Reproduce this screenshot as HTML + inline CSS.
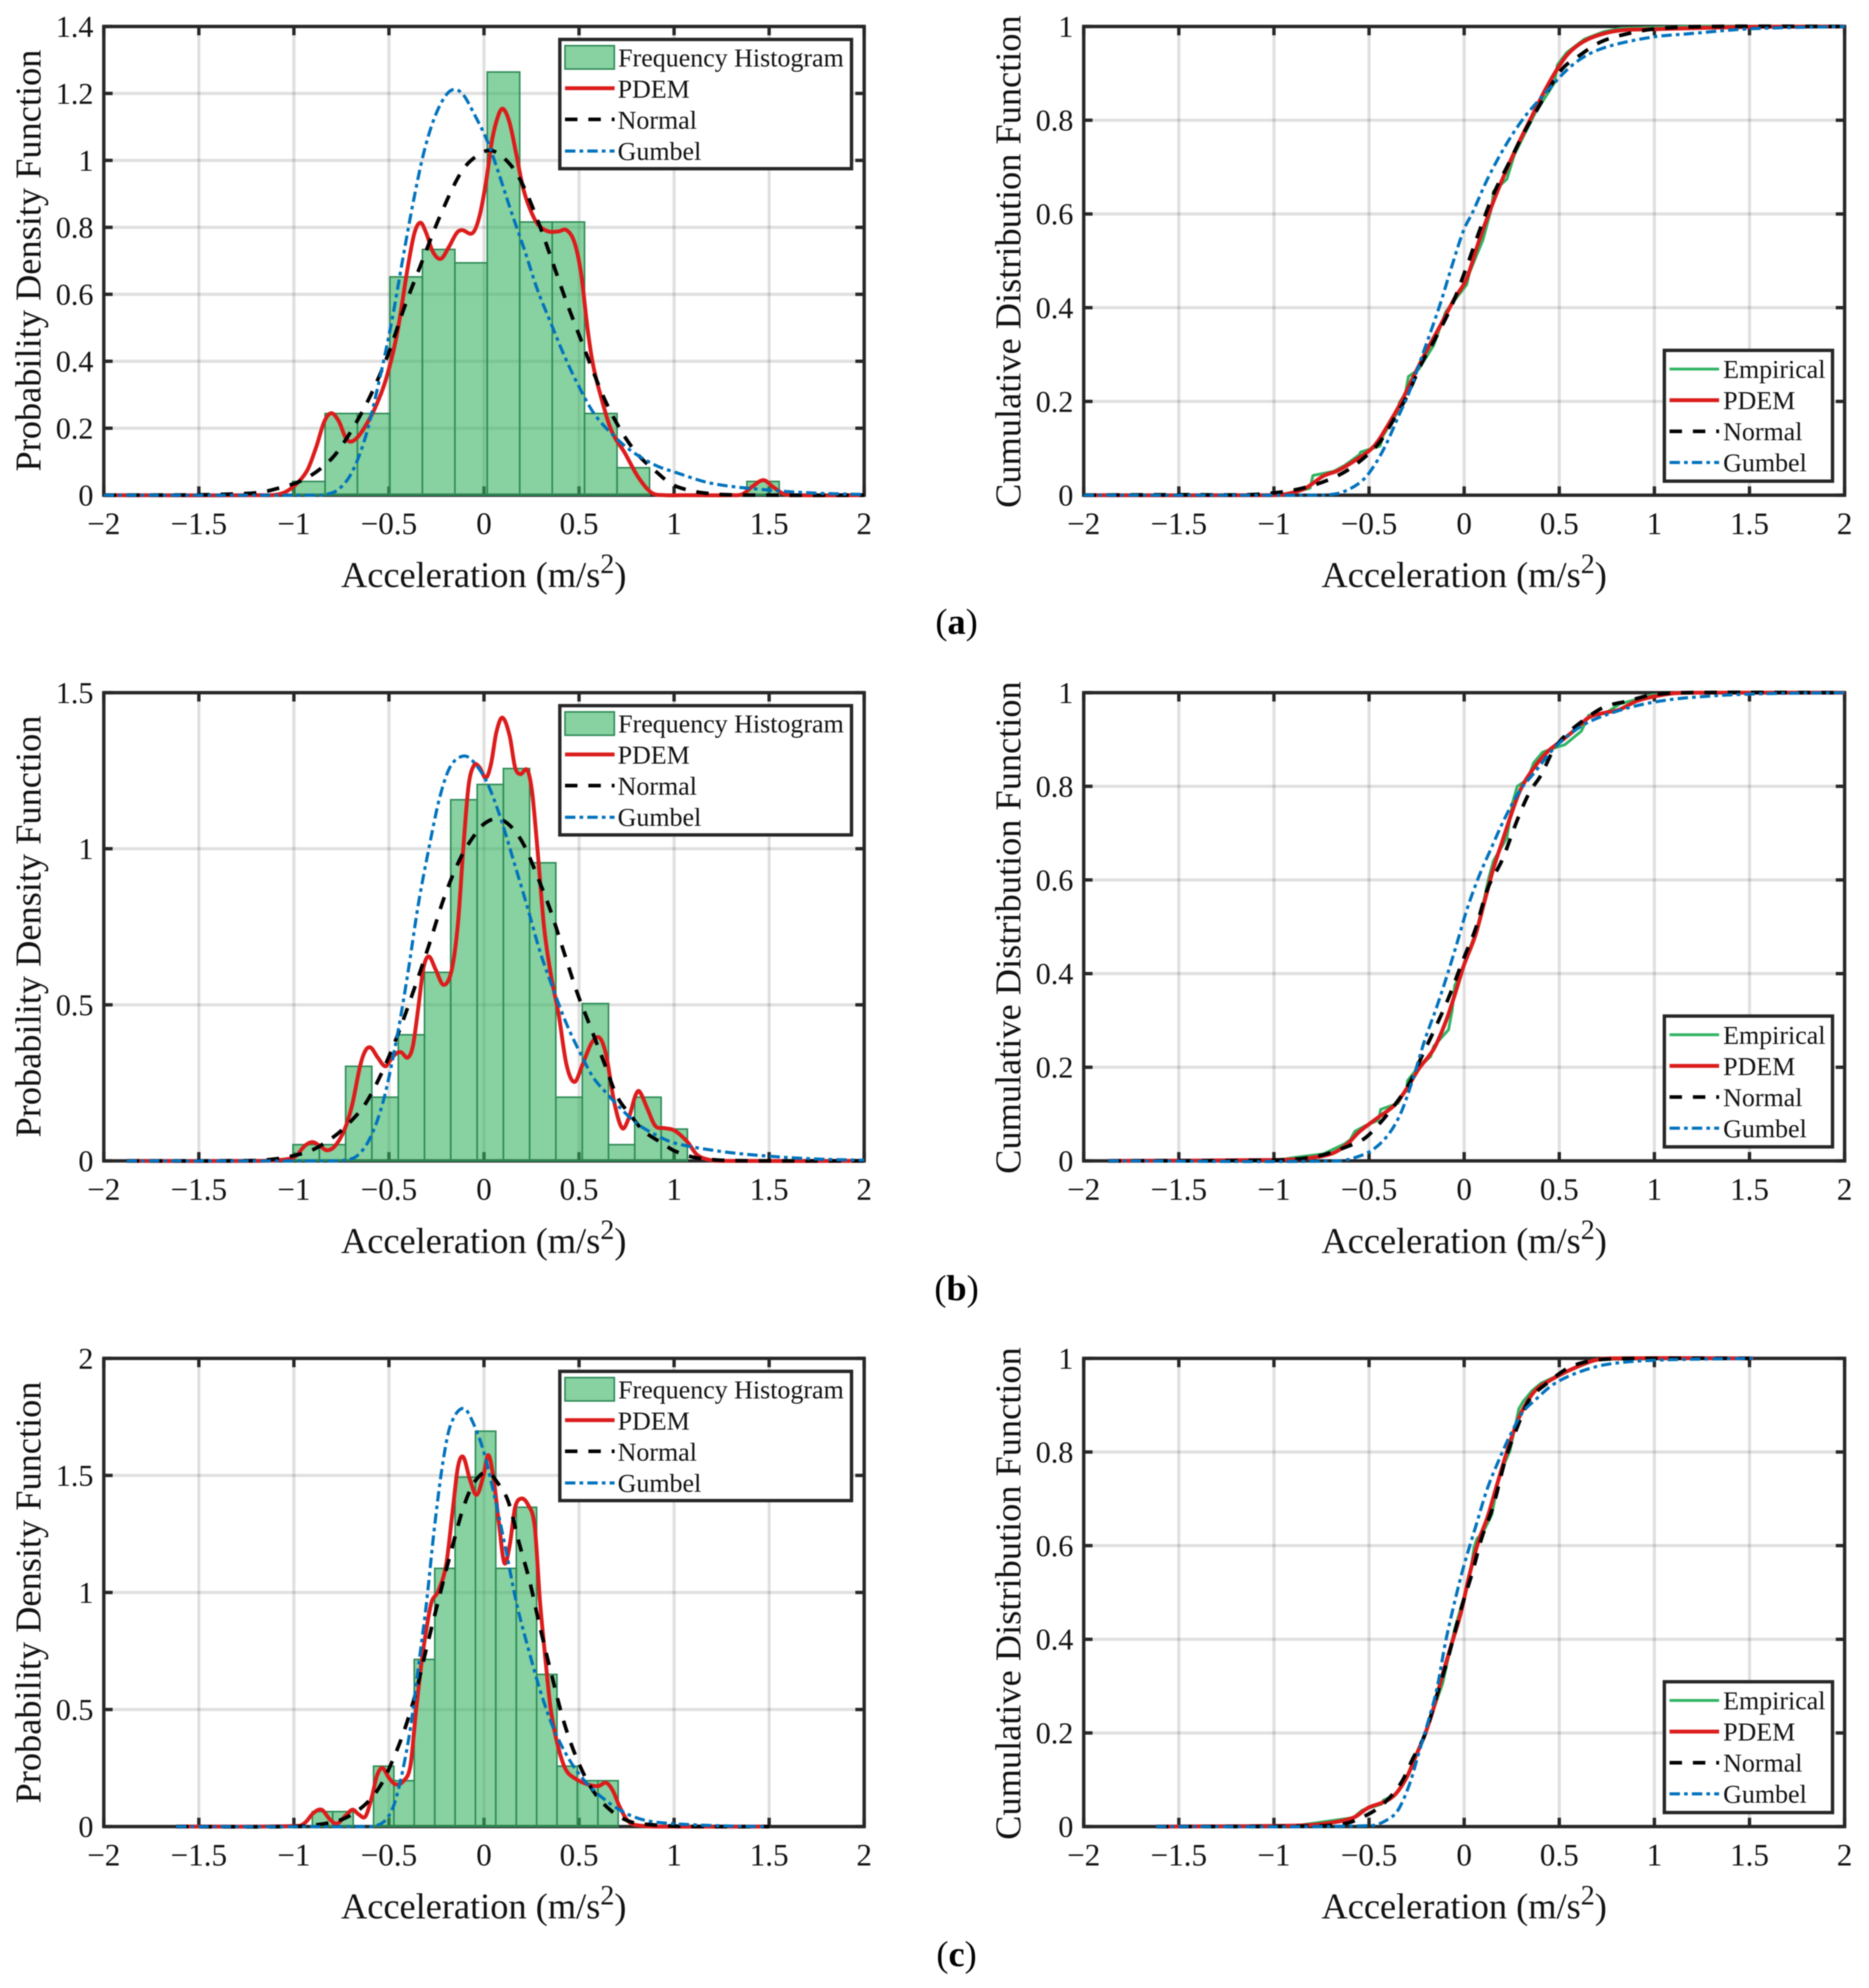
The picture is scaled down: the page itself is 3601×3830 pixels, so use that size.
<!DOCTYPE html>
<html lang="en">
<head>
<meta charset="utf-8">
<title>Probability density and cumulative distribution charts</title>
<style>
html,body{margin:0;padding:0;background:#fff;width:3601px;height:3830px;overflow:hidden}
svg{display:block;font-family:"Liberation Serif",serif;fill:#111;filter:blur(1px)}
</style>
</head>
<body>
<svg id="figure" xmlns="http://www.w3.org/2000/svg" width="3601" height="3830" viewBox="0 0 3601 3830">
<rect width="3601" height="3830" fill="#fff"/>
<g id="plots"></g>
<g font-size="70" fill="#111">
<text x="932" y="1131" text-anchor="middle">Acceleration (m/s<tspan dy="-27" font-size="54">2</tspan><tspan dy="27">)</tspan></text>
<text x="2821" y="1131" text-anchor="middle">Acceleration (m/s<tspan dy="-27" font-size="54">2</tspan><tspan dy="27">)</tspan></text>
<text x="932" y="2414" text-anchor="middle">Acceleration (m/s<tspan dy="-27" font-size="54">2</tspan><tspan dy="27">)</tspan></text>
<text x="2821" y="2414" text-anchor="middle">Acceleration (m/s<tspan dy="-27" font-size="54">2</tspan><tspan dy="27">)</tspan></text>
<text x="932" y="3696" text-anchor="middle">Acceleration (m/s<tspan dy="-27" font-size="54">2</tspan><tspan dy="27">)</tspan></text>
<text x="2821" y="3696" text-anchor="middle">Acceleration (m/s<tspan dy="-27" font-size="54">2</tspan><tspan dy="27">)</tspan></text>
<text transform="translate(78,502) rotate(-90)" text-anchor="middle">Probability Density Function</text>
<text transform="translate(78,1785) rotate(-90)" text-anchor="middle">Probability Density Function</text>
<text transform="translate(78,3068) rotate(-90)" text-anchor="middle">Probability Density Function</text>
<text transform="translate(1966,504) rotate(-90)" text-anchor="middle">Cumulative Distribution Function</text>
<text transform="translate(1966,1787) rotate(-90)" text-anchor="middle">Cumulative Distribution Function</text>
<text transform="translate(1966,3070) rotate(-90)" text-anchor="middle">Cumulative Distribution Function</text>
<g font-size="50">
<text x="1191" y="128">Frequency Histogram</text>
<text x="1190" y="188">PDEM</text>
<text x="1190" y="248">Normal</text>
<text x="1190" y="308">Gumbel</text>
<text x="1191" y="1411">Frequency Histogram</text>
<text x="1190" y="1471">PDEM</text>
<text x="1190" y="1531">Normal</text>
<text x="1190" y="1591">Gumbel</text>
<text x="1191" y="2694">Frequency Histogram</text>
<text x="1190" y="2754">PDEM</text>
<text x="1190" y="2814">Normal</text>
<text x="1190" y="2874">Gumbel</text>
<text x="3320" y="728">Empirical</text>
<text x="3320" y="788">PDEM</text>
<text x="3320" y="848">Normal</text>
<text x="3320" y="908">Gumbel</text>
<text x="3320" y="2011">Empirical</text>
<text x="3320" y="2071">PDEM</text>
<text x="3320" y="2131">Normal</text>
<text x="3320" y="2191">Gumbel</text>
<text x="3320" y="3293">Empirical</text>
<text x="3320" y="3353">PDEM</text>
<text x="3320" y="3413">Normal</text>
<text x="3320" y="3473">Gumbel</text>
</g>
<text x="1843" y="1221" text-anchor="middle" fill="#000">(<tspan font-weight="bold">a</tspan>)</text>
<text x="1843" y="2505" text-anchor="middle" fill="#000">(<tspan font-weight="bold">b</tspan>)</text>
<text x="1843" y="3788" text-anchor="middle" fill="#000">(<tspan font-weight="bold">c</tspan>)</text>
</g>
</svg>
<script>
const xTicks=[-2,-1.5,-1,-0.5,0,0.5,1,1.5,2];
const xTickLabels=["\u22122","\u22121.5","\u22121","\u22120.5","0","0.5","1","1.5","2"];
const yTicksPdfA=[0,0.2,0.4,0.6,0.8,1,1.2,1.4];
const yTickLabelsPdfA=["0","0.2","0.4","0.6","0.8","1","1.2","1.4"];
const yTicksPdfB=[0,0.5,1,1.5];
const yTickLabelsPdfB=["0","0.5","1","1.5"];
const yTicksPdfC=[0,0.5,1,1.5,2];
const yTickLabelsPdfC=["0","0.5","1","1.5","2"];
const yTicksCdf=[0,0.2,0.4,0.6,0.8,1];
const yTickLabelsCdf=["0","0.2","0.4","0.6","0.8","1"];

const histAEdges=[-1.007,-0.836,-0.666,-0.495,-0.324,-0.153,0.017,0.188,0.359,0.529,0.7,0.871,1.042,1.212,1.383,1.553];
const histAValues=[0.041,0.244,0.244,0.652,0.734,0.694,1.264,0.816,0.816,0.244,0.082,0,0,0,0.041];
const histBEdges=[-1.005,-0.866,-0.728,-0.59,-0.451,-0.313,-0.175,-0.036,0.102,0.24,0.378,0.517,0.655,0.793,0.932,1.07];
const histBValues=[0.052,0.052,0.303,0.204,0.404,0.604,1.157,1.206,1.257,0.955,0.204,0.504,0.052,0.204,0.102];
const histCEdges=[-0.903,-0.796,-0.688,-0.581,-0.474,-0.367,-0.259,-0.152,-0.045,0.062,0.17,0.277,0.384,0.491,0.599,0.706];
const histCValues=[0.064,0.064,0,0.258,0.196,0.714,1.103,1.493,1.689,1.103,1.364,0.65,0.258,0.196,0.196];

const pdfAPdemX=[-2,-1.18,-1.07,-1,-0.93,-0.882,-0.84,-0.803,-0.763,-0.729,-0.7,-0.659,-0.61,-0.568,-0.513,-0.457,-0.401,-0.366,-0.334,-0.304,-0.269,-0.227,-0.185,-0.144,-0.116,-0.06,-0.025,0.01,0.044,0.079,0.103,0.135,0.17,0.205,0.24,0.281,0.337,0.393,0.434,0.476,0.511,0.546,0.574,0.615,0.671,0.741,0.81,0.88,0.95,1.05,1.3,1.36,1.41,1.47,1.52,1.58,1.65,2];
const pdfAPdemY=[0,0,0.004,0.027,0.074,0.145,0.22,0.245,0.22,0.173,0.16,0.177,0.22,0.267,0.351,0.483,0.68,0.783,0.814,0.783,0.727,0.706,0.741,0.783,0.792,0.783,0.83,0.933,1.065,1.14,1.153,1.112,1.018,0.919,0.858,0.811,0.788,0.788,0.792,0.755,0.661,0.492,0.389,0.295,0.192,0.126,0.055,0.008,0,0,0,0.003,0.025,0.045,0.025,0.003,0,0];
const pdfANormalX=[-2,-1.5,-1.3,-1.18,-1.1,-0.97,-0.86,-0.764,-0.624,-0.513,-0.415,-0.332,-0.234,-0.123,-0.039,0.044,0.142,0.211,0.295,0.365,0.434,0.504,0.574,0.643,0.727,0.81,0.908,0.99,1.1,1.2,1.3,1.5,2];
const pdfANormalY=[0,0.001,0.004,0.008,0.018,0.041,0.079,0.135,0.267,0.408,0.567,0.689,0.83,0.962,1.013,1.029,0.985,0.919,0.802,0.689,0.577,0.473,0.37,0.276,0.187,0.121,0.069,0.032,0.012,0.004,0.001,0,0];
const pdfAGumbelX=[-2,-0.9,-0.833,-0.764,-0.694,-0.624,-0.555,-0.485,-0.429,-0.374,-0.318,-0.262,-0.206,-0.158,-0.109,-0.053,0.016,0.072,0.142,0.211,0.281,0.351,0.42,0.49,0.574,0.657,0.768,0.9,1.003,1.2,1.5,1.75,2];
const pdfAGumbelY=[0,0,0.002,0.018,0.069,0.173,0.332,0.52,0.7,0.87,1.02,1.125,1.19,1.212,1.196,1.14,1.06,0.971,0.849,0.736,0.614,0.515,0.42,0.335,0.248,0.192,0.135,0.09,0.069,0.035,0.015,0.006,0.002];

const pdfBPdemX=[-1.88,-1.18,-1.042,-0.987,-0.945,-0.903,-0.861,-0.826,-0.785,-0.736,-0.694,-0.652,-0.624,-0.596,-0.561,-0.52,-0.492,-0.464,-0.436,-0.401,-0.374,-0.346,-0.318,-0.29,-0.255,-0.213,-0.171,-0.137,-0.109,-0.081,-0.053,-0.025,0.01,0.037,0.065,0.097,0.135,0.163,0.191,0.228,0.253,0.281,0.316,0.351,0.393,0.434,0.476,0.518,0.567,0.609,0.643,0.685,0.727,0.762,0.796,0.817,0.859,0.901,0.95,1.003,1.07,1.12,1.18,1.25,2];
const pdfBPdemY=[0,0,0.005,0.017,0.047,0.06,0.047,0.034,0.047,0.097,0.178,0.303,0.353,0.363,0.333,0.303,0.323,0.343,0.348,0.331,0.368,0.489,0.619,0.655,0.614,0.564,0.609,0.76,1.001,1.202,1.267,1.262,1.227,1.272,1.373,1.42,1.362,1.262,1.239,1.252,1.182,1.001,0.75,0.599,0.469,0.308,0.253,0.308,0.379,0.394,0.338,0.188,0.105,0.138,0.208,0.223,0.168,0.112,0.105,0.097,0.061,0.02,0.004,0,0];
const pdfBNormalX=[-1.88,-1.2,-1.1,-1.014,-0.903,-0.791,-0.708,-0.624,-0.541,-0.457,-0.374,-0.29,-0.206,-0.123,-0.053,0.003,0.072,0.142,0.211,0.281,0.351,0.42,0.49,0.56,0.63,0.699,0.769,0.838,0.936,1.003,1.1,1.2,1.3,1.5,2];
const pdfBNormalY=[0,0.001,0.006,0.015,0.035,0.077,0.122,0.183,0.278,0.399,0.539,0.69,0.85,0.971,1.041,1.081,1.096,1.071,1.011,0.911,0.8,0.67,0.539,0.429,0.318,0.208,0.148,0.097,0.057,0.032,0.012,0.004,0.001,0,0];
const pdfBGumbelX=[-1.88,-0.85,-0.736,-0.666,-0.596,-0.527,-0.457,-0.401,-0.346,-0.29,-0.234,-0.178,-0.109,-0.053,0.016,0.086,0.156,0.225,0.295,0.365,0.434,0.504,0.574,0.643,0.727,0.81,0.908,1.003,1.25,1.5,1.75,2];
const pdfBGumbelY=[0,0,0.002,0.017,0.077,0.198,0.399,0.599,0.82,1.001,1.162,1.262,1.297,1.277,1.212,1.101,0.961,0.82,0.67,0.549,0.439,0.348,0.268,0.218,0.163,0.117,0.082,0.057,0.03,0.015,0.006,0.002];

const pdfCPdemX=[-1.62,-0.973,-0.938,-0.896,-0.854,-0.812,-0.775,-0.729,-0.691,-0.659,-0.624,-0.59,-0.562,-0.534,-0.499,-0.464,-0.422,-0.387,-0.36,-0.332,-0.304,-0.276,-0.241,-0.199,-0.165,-0.137,-0.109,-0.074,-0.039,-0.004,0.023,0.051,0.079,0.107,0.135,0.163,0.195,0.232,0.267,0.295,0.323,0.351,0.386,0.428,0.476,0.546,0.602,0.643,0.678,0.713,0.755,0.81,1,1.5];
const pdfCPdemY=[0,0.003,0.019,0.059,0.072,0.032,0.012,0.046,0.072,0.052,0.043,0.126,0.22,0.25,0.207,0.18,0.196,0.26,0.475,0.677,0.838,0.958,1.005,1.119,1.348,1.536,1.579,1.482,1.417,1.495,1.587,1.482,1.294,1.126,1.2,1.361,1.401,1.374,1.281,0.958,0.717,0.502,0.354,0.247,0.207,0.18,0.173,0.187,0.153,0.086,0.026,0.005,0,0];
const pdfCNormalX=[-1.62,-1,-0.875,-0.764,-0.694,-0.61,-0.541,-0.471,-0.415,-0.36,-0.304,-0.234,-0.165,-0.109,-0.053,0.016,0.072,0.128,0.184,0.239,0.295,0.351,0.42,0.49,0.574,0.671,0.769,0.88,1,1.2,1.5];
const pdfCNormalY=[0,0,0.008,0.026,0.052,0.106,0.18,0.301,0.421,0.569,0.757,0.985,1.2,1.361,1.468,1.515,1.468,1.388,1.213,1.052,0.851,0.663,0.448,0.287,0.153,0.066,0.021,0.008,0.002,0,0];
const pdfCGumbelX=[-1.62,-0.62,-0.569,-0.513,-0.471,-0.429,-0.387,-0.346,-0.304,-0.262,-0.22,-0.178,-0.109,-0.053,0.003,0.058,0.114,0.17,0.225,0.295,0.365,0.448,0.532,0.629,0.741,0.852,1.003,1.25,1.48];
const pdfCGumbelY=[0,0,0.003,0.032,0.099,0.234,0.421,0.677,0.945,1.267,1.536,1.71,1.787,1.717,1.589,1.401,1.187,0.958,0.784,0.583,0.421,0.287,0.193,0.119,0.059,0.026,0.012,0.003,0];

const cdfAEmpiricalX=[-2,-1,-0.912,-0.81,-0.795,-0.685,-0.63,-0.552,-0.544,-0.442,-0.426,-0.348,-0.34,-0.309,-0.293,-0.238,-0.16,-0.097,0.013,0.028,0.099,0.146,0.154,0.224,0.263,0.31,0.373,0.475,0.49,0.538,0.632,0.734,0.828,1.2,2];
const cdfAEmpiricalY=[0,0.001,0.004,0.015,0.042,0.051,0.063,0.086,0.092,0.105,0.127,0.179,0.198,0.217,0.253,0.269,0.32,0.391,0.449,0.475,0.545,0.616,0.648,0.674,0.725,0.764,0.815,0.88,0.918,0.944,0.973,0.989,0.996,1,1];
const cdfAPdemX=[-2,-1,-0.928,-0.834,-0.74,-0.661,-0.567,-0.473,-0.395,-0.332,-0.27,-0.207,-0.129,-0.05,0.013,0.075,0.138,0.201,0.279,0.357,0.42,0.483,0.545,0.624,0.718,0.828,0.984,1.5,2];
const cdfAPdemY=[0,0,0.003,0.015,0.041,0.053,0.076,0.105,0.153,0.198,0.25,0.301,0.359,0.42,0.462,0.539,0.61,0.674,0.745,0.809,0.86,0.905,0.941,0.967,0.983,0.992,0.994,0.999,1];
const cdfANormalX=[-2,-1.5,-1.132,-0.975,-0.85,-0.724,-0.614,-0.52,-0.442,-0.364,-0.301,-0.223,-0.144,-0.066,0.013,0.075,0.154,0.232,0.31,0.373,0.436,0.514,0.592,0.718,0.875,1.03,1.3,2];
const cdfANormalY=[0,0.001,0.001,0.006,0.015,0.031,0.053,0.082,0.114,0.166,0.211,0.282,0.34,0.404,0.487,0.558,0.642,0.706,0.77,0.815,0.86,0.909,0.934,0.967,0.986,0.996,1,1];
const cdfAGumbelX=[-2,-0.8,-0.708,-0.63,-0.536,-0.473,-0.411,-0.348,-0.285,-0.223,-0.129,-0.066,-0.003,0.044,0.122,0.216,0.31,0.389,0.475,0.561,0.655,0.78,1,1.169,1.5,2];
const cdfAGumbelY=[0,0,0.001,0.008,0.031,0.063,0.108,0.166,0.224,0.295,0.404,0.487,0.565,0.603,0.674,0.745,0.803,0.841,0.88,0.915,0.941,0.96,0.978,0.984,0.995,1];

const cdfBEmpiricalX=[-1.87,-0.97,-0.897,-0.74,-0.63,-0.599,-0.575,-0.52,-0.45,-0.439,-0.348,-0.301,-0.298,-0.254,-0.176,-0.16,-0.082,-0.063,-0.05,0.005,0.067,0.099,0.13,0.154,0.224,0.255,0.279,0.334,0.365,0.412,0.498,0.53,0.616,0.655,0.749,0.82,0.984,1.15,2];
const cdfBEmpiricalY=[0,0.002,0.007,0.015,0.036,0.045,0.063,0.075,0.087,0.11,0.123,0.155,0.171,0.194,0.223,0.245,0.28,0.322,0.374,0.425,0.496,0.548,0.605,0.641,0.689,0.766,0.8,0.815,0.85,0.873,0.885,0.889,0.918,0.952,0.958,0.976,0.995,1,1];
const cdfBPdemX=[-1.87,-0.975,-0.818,-0.693,-0.614,-0.552,-0.458,-0.364,-0.301,-0.238,-0.16,-0.097,-0.05,-0.003,0.06,0.107,0.154,0.201,0.248,0.295,0.357,0.436,0.514,0.592,0.655,0.749,0.812,0.906,1,1.11,1.3,2];
const cdfBPdemY=[0,0.002,0.006,0.016,0.036,0.062,0.091,0.12,0.155,0.197,0.239,0.297,0.354,0.416,0.483,0.554,0.625,0.683,0.741,0.792,0.834,0.873,0.898,0.924,0.947,0.958,0.963,0.982,0.992,0.999,1,1];
const cdfBNormalX=[-1.87,-0.975,-0.771,-0.599,-0.52,-0.442,-0.364,-0.285,-0.223,-0.16,-0.082,-0.003,0.06,0.122,0.201,0.279,0.342,0.404,0.467,0.53,0.624,0.734,0.859,0.984,1.15,2];
const cdfBNormalY=[0,0.002,0.01,0.033,0.049,0.081,0.12,0.168,0.223,0.277,0.348,0.432,0.496,0.58,0.644,0.728,0.786,0.824,0.876,0.908,0.94,0.969,0.982,0.995,1,1];
const cdfBGumbelX=[-1.87,-0.661,-0.552,-0.473,-0.395,-0.332,-0.27,-0.207,-0.144,-0.082,-0.034,0.013,0.075,0.138,0.216,0.295,0.373,0.467,0.545,0.639,0.749,0.875,1,1.169,1.5,2];
const cdfBGumbelY=[0,0,0.01,0.026,0.058,0.103,0.174,0.258,0.329,0.406,0.47,0.535,0.605,0.664,0.734,0.792,0.831,0.879,0.908,0.934,0.953,0.969,0.98,0.989,0.997,1];

const cdfCEmpiricalX=[-1.62,-0.865,-0.583,-0.536,-0.434,-0.426,-0.364,-0.309,-0.207,-0.113,-0.05,0.028,0.052,0.067,0.099,0.146,0.185,0.24,0.271,0.287,0.31,0.357,0.404,0.561,0.702,1.52];
const cdfCEmpiricalY=[0,0.003,0.019,0.035,0.048,0.056,0.068,0.1,0.196,0.306,0.422,0.531,0.596,0.615,0.628,0.667,0.75,0.802,0.86,0.892,0.908,0.931,0.947,0.976,0.998,1];
const cdfCPdemX=[-1.62,-0.897,-0.74,-0.583,-0.505,-0.426,-0.364,-0.301,-0.254,-0.207,-0.16,-0.113,-0.066,-0.019,0.028,0.075,0.122,0.169,0.216,0.263,0.31,0.373,0.451,0.561,0.686,0.78,1.52];
const cdfCPdemY=[0,0.002,0.006,0.019,0.04,0.052,0.068,0.106,0.151,0.196,0.254,0.325,0.39,0.454,0.538,0.609,0.66,0.725,0.789,0.847,0.892,0.931,0.953,0.976,0.996,1,1];
const cdfCNormalX=[-1.62,-0.818,-0.63,-0.52,-0.426,-0.332,-0.27,-0.207,-0.144,-0.082,-0.019,0.044,0.091,0.154,0.216,0.279,0.342,0.436,0.545,0.655,0.78,1,1.52];
const cdfCNormalY=[0,0.001,0.006,0.023,0.048,0.093,0.145,0.196,0.28,0.364,0.461,0.544,0.615,0.686,0.783,0.853,0.911,0.947,0.979,0.994,0.999,1,1];
const cdfCGumbelX=[-1.62,-0.489,-0.411,-0.348,-0.285,-0.238,-0.191,-0.144,-0.097,-0.05,-0.003,0.06,0.122,0.185,0.248,0.31,0.373,0.467,0.592,0.749,1,1.52];
const cdfCGumbelY=[0,0.002,0.013,0.035,0.093,0.158,0.222,0.293,0.396,0.48,0.555,0.64,0.722,0.785,0.841,0.886,0.911,0.944,0.969,0.987,0.996,1];

const NS='http://www.w3.org/2000/svg';
const STYLE={
  pdem:{stroke:'#dc1c1c',width:7.5,dash:null,name:'pdem'},
  normal:{stroke:'#000',width:7,dash:'24 21',name:'normal'},
  gumbel:{stroke:'#0072bd',width:6,dash:'20 8 7 8',name:'gumbel'},
  empirical:{stroke:'#2fb463',width:5.5,dash:null,name:'empirical'}
};
const root=document.getElementById('plots');
function mk(tag,attrs,parent){
  const e=document.createElementNS(NS,tag);
  for(const k in attrs)e.setAttribute(k,attrs[k]);
  parent.appendChild(e);
  return e;
}
function smoothPath(px,py){
  const n=Math.min(px.length,py.length);
  const t=[];
  for(let i=0;i<n;i++){
    const a=Math.max(0,i-1),b=Math.min(n-1,i+1);
    t.push((py[b]-py[a])/(px[b]-px[a]));
  }
  let d='M'+px[0].toFixed(1)+' '+py[0].toFixed(1);
  for(let i=0;i<n-1;i++){
    const h=(px[i+1]-px[i])/3;
    d+=' C'+(px[i]+h).toFixed(1)+' '+(py[i]+h*t[i]).toFixed(1)+' '+(px[i+1]-h).toFixed(1)+' '+(py[i+1]-h*t[i+1]).toFixed(1)+' '+px[i+1].toFixed(1)+' '+py[i+1].toFixed(1);
  }
  return d;
}
function linePath(px,py){
  const n=Math.min(px.length,py.length);
  let d='';
  for(let i=0;i<n;i++)d+=(i?' L':'M')+px[i].toFixed(1)+' '+py[i].toFixed(1);
  return d;
}
const PANELS=[
 {id:'a-pdf',l:200,r:1665,t:51,b:954,yMax:1.4,yT:yTicksPdfA,yL:yTickLabelsPdfA,edges:histAEdges,vals:histAValues,
  series:[['pdem',pdfAPdemX,pdfAPdemY],['normal',pdfANormalX,pdfANormalY],['gumbel',pdfAGumbelX,pdfAGumbelY]]},
 {id:'a-cdf',l:2088,r:3554,t:51,b:954,yMax:1,yT:yTicksCdf,yL:yTickLabelsCdf,
  series:[['empirical',cdfAEmpiricalX,cdfAEmpiricalY],['pdem',cdfAPdemX,cdfAPdemY],['normal',cdfANormalX,cdfANormalY],['gumbel',cdfAGumbelX,cdfAGumbelY]]},
 {id:'b-pdf',l:200,r:1665,t:1334.5,b:2236.5,yMax:1.5,yT:yTicksPdfB,yL:yTickLabelsPdfB,edges:histBEdges,vals:histBValues,
  series:[['pdem',pdfBPdemX,pdfBPdemY],['normal',pdfBNormalX,pdfBNormalY],['gumbel',pdfBGumbelX,pdfBGumbelY]]},
 {id:'b-cdf',l:2088,r:3554,t:1334.5,b:2236.5,yMax:1,yT:yTicksCdf,yL:yTickLabelsCdf,
  series:[['empirical',cdfBEmpiricalX,cdfBEmpiricalY],['pdem',cdfBPdemX,cdfBPdemY],['normal',cdfBNormalX,cdfBNormalY],['gumbel',cdfBGumbelX,cdfBGumbelY]]},
 {id:'c-pdf',l:200,r:1665,t:2617,b:3519,yMax:2,yT:yTicksPdfC,yL:yTickLabelsPdfC,edges:histCEdges,vals:histCValues,
  series:[['pdem',pdfCPdemX,pdfCPdemY],['normal',pdfCNormalX,pdfCNormalY],['gumbel',pdfCGumbelX,pdfCGumbelY]]},
 {id:'c-cdf',l:2088,r:3554,t:2617,b:3519,yMax:1,yT:yTicksCdf,yL:yTickLabelsCdf,
  series:[['empirical',cdfCEmpiricalX,cdfCEmpiricalY],['pdem',cdfCPdemX,cdfCPdemY],['normal',cdfCNormalX,cdfCNormalY],['gumbel',cdfCGumbelX,cdfCGumbelY]]}
];
const FILL='rgb(50,176,92)',EDGE='#2c8a56',AXIS='#262626',AXW=6.5;
PANELS.forEach(function(p){
  const sx=function(v){return p.l+(v+2)/4*(p.r-p.l);};
  const sy=function(v){return p.b-v/p.yMax*(p.b-p.t);};
  const g=mk('g',{},root);
  
  
  const clipId='clip-'+p.id;
  const defs=mk('defs',{},g);
  const cp=mk('clipPath',{id:clipId},defs);
  mk('rect',{x:p.l-6,y:p.t-6,width:p.r-p.l+12,height:p.b-p.t+12},cp);
  // grid
  xTicks.forEach(function(v){
    const ln=mk('line',{x1:sx(v),x2:sx(v),y1:p.t,y2:p.b,stroke:'#000','stroke-opacity':0.12,'stroke-width':6},g);
    
    
  });
  p.yT.forEach(function(v){
    const ln=mk('line',{x1:p.l,x2:p.r,y1:sy(v),y2:sy(v),stroke:'#000','stroke-opacity':0.12,'stroke-width':6},g);
    
    
  });
  // frame
  const frame=mk('rect',{x:p.l,y:p.t,width:p.r-p.l,height:p.b-p.t,fill:'none',stroke:AXIS,'stroke-width':AXW},g);
  
  
  // ticks
  const TL=17;
  xTicks.forEach(function(v,i){
    const bt=mk('line',{x1:sx(v),x2:sx(v),y1:p.b,y2:p.b-TL,stroke:AXIS,'stroke-width':AXW},g);
    
    
    const tt=mk('line',{x1:sx(v),x2:sx(v),y1:p.t,y2:p.t+TL,stroke:AXIS,'stroke-width':AXW},g);
    
    
    const lb=mk('text',{x:sx(v),y:p.b+75,'text-anchor':'middle','font-size':60,fill:'#111'},g);
    lb.textContent=xTickLabels[i];
    
    
  });
  p.yT.forEach(function(v,i){
    const lt=mk('line',{x1:p.l,x2:p.l+TL,y1:sy(v),y2:sy(v),stroke:AXIS,'stroke-width':AXW},g);
    
    
    const rt=mk('line',{x1:p.r,x2:p.r-TL,y1:sy(v),y2:sy(v),stroke:AXIS,'stroke-width':AXW},g);
    
    
    const lb=mk('text',{x:p.l-20,y:sy(v)+20,'text-anchor':'end','font-size':58,fill:'#111'},g);
    lb.textContent=p.yL[i];
    
    
  });
  // histogram
  if(p.vals){
    p.vals.forEach(function(v,i){
      const x0=sx(p.edges[i]),x1=sx(p.edges[i+1]),y0=sy(v);
      const bar=mk('rect',{x:x0,y:y0,width:x1-x0,height:p.b-y0,fill:FILL,'fill-opacity':0.58,stroke:EDGE,'stroke-width':3},g);
      
      
    });
  }
  // curves
  const cg=mk('g',{'clip-path':'url(#'+clipId+')'},g);
  p.series.forEach(function(s){
    const st=STYLE[s[0]];
    const px=s[1].map(sx),py=s[2].map(sy);
    const d=s[0]==='empirical'?linePath(px,py):smoothPath(px,py);
    const path=mk('path',{d:d,fill:'none',stroke:st.stroke,'stroke-width':st.width,'stroke-linejoin':'round'},cg);
    if(st.dash)path.setAttribute('stroke-dasharray',st.dash);
    
    
  });
  // legend
  const isPdf=!!p.vals;
  const lx=isPdf?p.l+878.6:p.l+1118.7;
  const ly=isPdf?p.t+25:p.b-279;
  const lw=isPdf?562:324;
  const lh=isPdf?249:252;
  const leg=mk('g',{},g);
  
  
  mk('rect',{x:lx,y:ly,width:lw,height:lh,fill:'#fff',stroke:AXIS,'stroke-width':AXW},leg);
  const sx0=lx+10,sx1=lx+105.5;
  if(isPdf){
    const sw=mk('rect',{x:sx0,y:ly+12,width:95,height:45,fill:FILL,'fill-opacity':0.58,stroke:EDGE,'stroke-width':3},leg);
    
    
  }
  const rows=isPdf?[94,154,215]:[36,96,156,216];
  p.series.forEach(function(s,i){
    const st=STYLE[s[0]];
    const smp=mk('line',{x1:sx0,x2:sx1,y1:ly+rows[i],y2:ly+rows[i],stroke:st.stroke,'stroke-width':st.width},leg);
    if(st.dash)smp.setAttribute('stroke-dasharray',st.dash);
    
    
  });
});
</script>
</body>
</html>
